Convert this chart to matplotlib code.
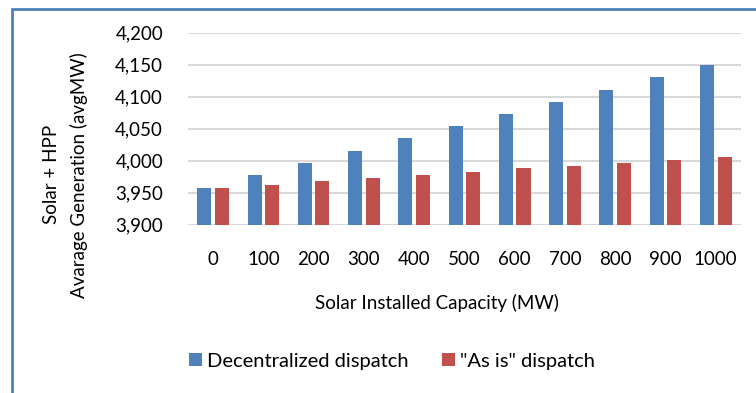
import numpy as np
import matplotlib.pyplot as plt
from matplotlib.patches import Rectangle

capacity = ['0', '100', '200', '300', '400', '500', '600', '700', '800', '900', '1000']
decentralized = [3957, 3978, 3996, 4015, 4035, 4054, 4073, 4092, 4110, 4131, 4150]
as_is = [3957, 3962, 3968, 3973, 3978, 3982, 3988, 3992, 3996, 4001, 4006]
yticks = [3900, 3950, 4000, 4050, 4100, 4150, 4200]

plt.rcParams['font.family'] = ['Lato', 'DejaVu Sans']

fig = plt.figure(figsize=(7.56, 3.93), dpi=100)
ax = fig.add_axes([0.2487, 0.4282, 0.7313, 0.4886])

x = np.arange(len(capacity))
w = 0.28
ax.bar(x - 0.175, decentralized, w, color='#4F81BD', label='Decentralized dispatch', zorder=3)
ax.bar(x + 0.175, as_is, w, color='#C0504D', label='"As is" dispatch', zorder=3)

ax.set_xlim(-0.5, len(capacity) - 0.5)
ax.set_ylim(3900, 4200)
ax.set_yticks(yticks)
ax.set_yticklabels(['{:,}'.format(v) for v in yticks], fontsize=13.5)
ax.set_xticks(x)
ax.set_xticklabels(capacity, fontsize=13.5)
ax.tick_params(axis='both', length=0)
ax.tick_params(axis='y', pad=18)
ax.tick_params(axis='x', pad=19)
ax.yaxis.grid(True, color='#D9D9D9', linewidth=1.5, zorder=0)
for s in ax.spines.values():
    s.set_visible(False)

ax.set_xlabel('Solar Installed Capacity (MW)', fontsize=13.5)
ax.xaxis.set_label_coords(0.451, -0.36)
ax.set_ylabel('Solar + HPP\nAvarage Generation (avgMW)', fontsize=13.5, linespacing=1.65)
ax.yaxis.set_label_coords(-0.181, 0.26)

ax.legend(loc='center', bbox_to_anchor=(392 / 756, 0.0814), bbox_transform=fig.transFigure,
          ncol=2, frameon=False, fontsize=14.5, handlelength=0.65, handleheight=0.65,
          handletextpad=0.25, columnspacing=1.65)

# chart border (only left/top visible in the crop)
fig.patches.append(Rectangle((12 / 756, -0.1), 1.2, (393 - 8.5) / 393 + 0.1,
                             transform=fig.transFigure, fill=False,
                             edgecolor='#4F81BD', linewidth=2))

fig.savefig('out.png', dpi=100)
